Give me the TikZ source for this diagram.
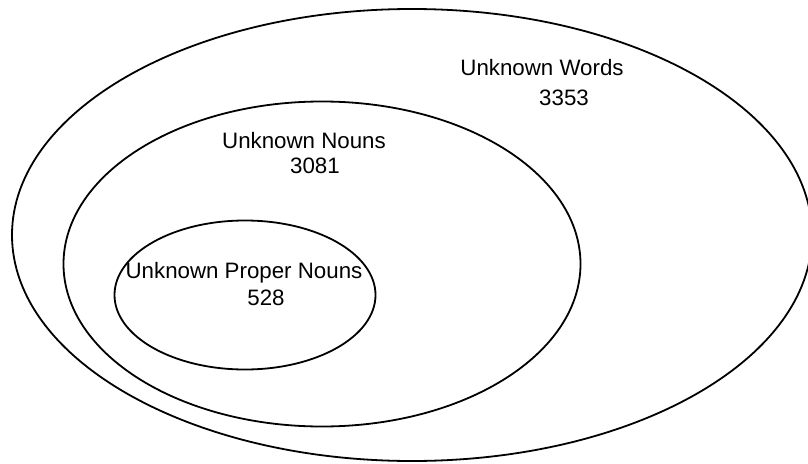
\documentclass[tikz,border=0pt]{standalone}
\usepackage{fontspec}
\setmainfont{Liberation Sans}
\usetikzlibrary{shapes.geometric}
\begin{document}
\begin{tikzpicture}[x=1pt,y=-1pt,
  set/.style={draw, ellipse, line width=1.8pt, inner sep=0pt},
  lbl/.style={anchor=base, inner sep=0pt, font=\fontsize{22.3}{26}\selectfont}]
\useasboundingbox (0,0) rectangle (808,463);
% nested sets
\node[set, minimum width=800pt, minimum height=452pt] (words) at (412,235) {};
\node[set, minimum width=517pt, minimum height=325pt] (nouns) at (322,264) {};
\node[set, minimum width=261pt, minimum height=149pt] (proper) at (245,295) {};
% labels
\node[lbl] (wordsname) at (542,75) {Unknown Words};
\node[lbl] (wordsnum) at (564,105) {3353};
\node[lbl] (nounsname) at (304,148) {Unknown Nouns};
\node[lbl] (nounsnum) at (315,173) {3081};
\node[lbl] (propername) at (244,278) {Unknown Proper Nouns};
\node[lbl] (propernum) at (266,305) {528};
\end{tikzpicture}
\end{document}
